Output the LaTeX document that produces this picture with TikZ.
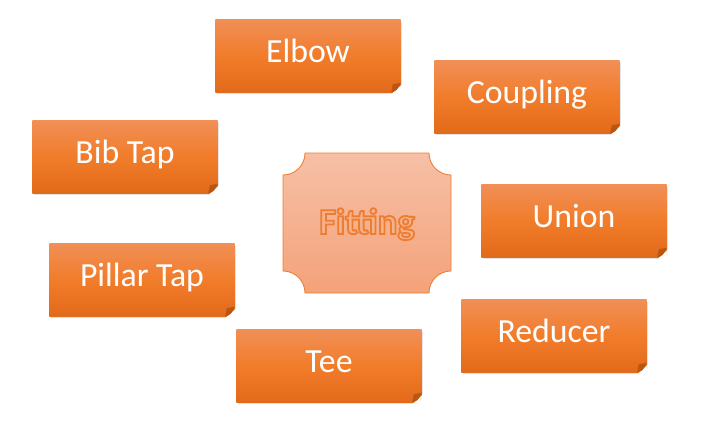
\documentclass[tikz,border=0pt]{standalone}
\usepackage{fontspec}
\setmainfont{Carlito}
\definecolor{orange1}{RGB}{241, 143, 86}
\definecolor{orange2}{RGB}{241, 124, 42}
\definecolor{orange3}{RGB}{226, 106, 26}
\definecolor{fold1}{RGB}{184, 86, 18}
\definecolor{salmon1}{RGB}{246, 192, 166}
\definecolor{salmon2}{RGB}{244, 162, 122}
\definecolor{edge1}{RGB}{237, 125, 49}
\usetikzlibrary{shadows, calc}

\begin{document}
\begin{tikzpicture}[x=0.025cm, y=-0.025cm,
  nbox/.style={top color=orange1, bottom color=orange3, middle color=orange2, minimum width=4.625cm, minimum height=1.8cm, text=white, font=\fontsize{24}{28}\selectfont, text height=0.55cm, text depth=0.25cm, inner sep=0pt, drop shadow={shadow xshift=1.2pt, shadow yshift=-1.2pt, opacity=0.22}}
]
  \useasboundingbox (0,0) rectangle (717,447);

  % the seven parts
  \node[nbox] (elbow) at (308, 56) {Elbow};
  \node[nbox] (coupling) at (527, 97) {Coupling};
  \node[nbox] (bibtap) at (125, 157) {Bib Tap};
  \node[nbox] (union) at (574, 221) {Union};
  \node[nbox] (pillartap) at (142, 280) {Pillar Tap};
  \node[nbox] (reducer) at (554, 336) {Reducer};
  \node[nbox] (tee) at (329, 366) {Tee};

  % turned-up corners
  \foreach \n in {elbow, coupling, bibtap, union, pillartap, reducer, tee} {
    \fill[white] ($(\n.south east)+(-0.24cm,-0.05cm)$) -- ($(\n.south east)+(0.08cm,-0.05cm)$) -- ($(\n.south east)+(0.08cm,0.24cm)$) -- cycle;
    \fill[fold1] ($(\n.south east)+(-0.24cm,0)$) .. controls ($(\n.south east)+(-0.1cm,0.04cm)$) .. ($(\n.south east)+(0,0.24cm)$)
      -- ($(\n.south east)+(-0.2cm,0.2cm)$) -- cycle;
  }

  % centre plaque
  \coordinate (fsw) at (283, 293);
  \coordinate (fne) at (451, 153);
  \shade[top color=salmon1, bottom color=salmon2, draw=edge1, line width=0.6pt]
    ($(fsw)+(0.55cm,0)$) -- ($(fsw -| fne)+(-0.55cm,0)$) arc[start angle=180, end angle=90, radius=0.55cm]
    -- ($(fne)+(0,-0.55cm)$) arc[start angle=270, end angle=180, radius=0.55cm]
    -- ($(fsw |- fne)+(0.55cm,0)$) arc[start angle=0, end angle=-90, radius=0.55cm]
    -- ($(fsw)+(0,0.55cm)$) arc[start angle=90, end angle=0, radius=0.55cm] -- cycle;
  \node[font=\bfseries\fontsize{26}{28}\selectfont, text height=0.6cm, text depth=0.05cm, inner sep=0pt] (fitting) at (367, 223)
    {\special{pdf:code 2 Tr 1.3 w 0.93 0.49 0.19 RG 0.97 0.7 0.54 rg}Fitting\special{pdf:code 0 Tr}};
\end{tikzpicture}
\end{document}
